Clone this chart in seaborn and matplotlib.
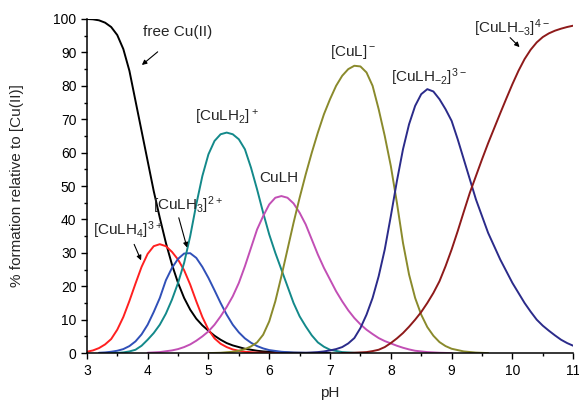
# Copper(II) speciation diagram - % formation vs pH

import matplotlib
matplotlib.use("Agg")
import matplotlib.pyplot as plt
import pandas as pd
import seaborn as sns
from matplotlib.ticker import MultipleLocator

# values, mostly at 0.1 pH steps
ph_cu = [3.0, 3.1, 3.2, 3.3, 3.4, 3.5, 3.6, 3.7, 3.8, 3.9, 4.0, 4.1, 4.2, 4.3, 4.4, 4.5, 4.6, 4.7, 4.8, 4.9,
         5.0, 5.1, 5.2, 5.3, 5.4, 5.5, 5.6, 5.7, 5.8, 5.9, 6.0, 6.2, 6.4, 6.6, 7.0]
free_cu = [100, 99.9, 99.6, 98.9, 97.6, 95.2, 91.0, 84.5, 75.5, 66.5, 57.5, 48.5, 40.5, 33.0, 26.5, 21.0, 16.5, 13.0, 10.3, 8.3,
           6.7, 5.2, 4.0, 3.0, 2.3, 1.8, 1.3, 1.0, 0.7, 0.5, 0.4, 0.2, 0.1, 0.05, 0.0]

ph_lh4 = [3.0, 3.1, 3.2, 3.3, 3.4, 3.5, 3.6, 3.7, 3.8, 3.9, 4.0, 4.1, 4.2, 4.3, 4.4, 4.5, 4.6, 4.7, 4.8, 4.9,
          5.0, 5.1, 5.2, 5.3, 5.4, 5.5, 5.6, 5.8, 6.0, 6.2]
culh4 = [0.4, 0.8, 1.5, 2.6, 4.2, 7.0, 10.8, 15.6, 20.8, 25.8, 29.7, 32.0, 32.6, 32.0, 30.3, 28.0, 24.8, 20.5, 15.5, 10.8,
         7.0, 4.4, 2.8, 1.8, 1.1, 0.7, 0.4, 0.15, 0.05, 0.0]

ph_lh3 = [3.2, 3.3, 3.4, 3.5, 3.6, 3.7, 3.8, 3.9, 4.0, 4.1, 4.2, 4.3, 4.4, 4.5, 4.6, 4.7, 4.8, 4.9,
          5.0, 5.1, 5.2, 5.3, 5.4, 5.5, 5.6, 5.7, 5.8, 5.9, 6.0, 6.2, 6.4, 6.6, 6.8]
culh3 = [0.1, 0.2, 0.4, 0.7, 1.2, 2.1, 3.5, 5.6, 8.5, 12.3, 16.5, 21.8, 25.5, 28.2, 29.8, 29.9, 28.5, 25.8,
         22.5, 18.8, 15.0, 11.5, 8.5, 6.2, 4.4, 3.1, 2.1, 1.4, 0.9, 0.4, 0.15, 0.05, 0.0]

ph_lh2 = [3.4, 3.5, 3.6, 3.7, 3.8, 3.9, 4.0, 4.1, 4.2, 4.3, 4.4, 4.5, 4.6, 4.7, 4.8, 4.9,
          5.0, 5.1, 5.2, 5.3, 5.4, 5.5, 5.6, 5.7, 5.8, 5.9, 6.0, 6.1, 6.2, 6.3, 6.4, 6.5, 6.6, 6.7, 6.8, 6.9,
          7.0, 7.2, 7.4, 7.6]
culh2 = [0.0, 0.05, 0.2, 0.5, 1.0, 2.2, 4.0, 6.0, 8.5, 11.8, 16.0, 21.0, 27.0, 35.0, 44.5, 53.0,
         59.5, 63.5, 65.5, 66.0, 65.5, 64.0, 61.0, 55.5, 49.0, 42.0, 35.5, 30.0, 25.0, 20.0, 15.0, 11.0, 8.0, 5.3, 3.2, 1.9,
         1.0, 0.3, 0.1, 0.0]

ph_lh = [4.0, 4.2, 4.4, 4.5, 4.6, 4.7, 4.8, 4.9, 5.0, 5.1, 5.2, 5.3, 5.4, 5.5, 5.6, 5.7, 5.8, 5.9,
         6.0, 6.1, 6.2, 6.3, 6.4, 6.5, 6.6, 6.7, 6.8, 6.9, 7.0, 7.1, 7.2, 7.3, 7.4, 7.5, 7.6, 7.7, 7.8, 7.9,
         8.0, 8.1, 8.2, 8.3, 8.4, 8.6, 8.8, 9.0]
culh = [0.1, 0.3, 0.8, 1.2, 1.8, 2.6, 3.7, 5.0, 6.5, 8.5, 11.0, 13.8, 17.0, 21.0, 26.0, 31.5, 37.0, 41.0,
        44.5, 46.5, 47.0, 46.5, 44.8, 42.0, 38.5, 34.0, 29.5, 25.5, 22.0, 18.5, 15.5, 12.8, 10.5, 8.6, 7.0, 5.7, 4.5, 3.6,
        2.9, 2.2, 1.6, 1.1, 0.7, 0.3, 0.1, 0.0]

ph_l = [5.0, 5.2, 5.4, 5.5, 5.6, 5.7, 5.8, 5.9, 6.0, 6.1, 6.2, 6.3, 6.4, 6.5, 6.6, 6.7, 6.8, 6.9,
        7.0, 7.1, 7.2, 7.3, 7.4, 7.5, 7.6, 7.7, 7.8, 7.9, 8.0, 8.1, 8.2, 8.3, 8.4, 8.5, 8.6, 8.7, 8.8, 8.9,
        9.0, 9.2, 9.4, 9.6]
cul = [0.0, 0.1, 0.4, 0.7, 1.2, 2.0, 3.2, 5.5, 9.5, 15.5, 23.0, 31.0, 39.0, 46.5, 53.5, 60.0, 66.0, 71.5,
       76.0, 80.0, 83.0, 85.0, 86.0, 85.8, 84.0, 80.0, 73.0, 65.0, 56.0, 45.0, 33.0, 23.5, 16.5, 11.5, 7.8, 5.2, 3.3, 2.1,
       1.3, 0.5, 0.15, 0.0]

ph_lhm2 = [6.2, 6.4, 6.6, 6.8, 6.9, 7.0, 7.1, 7.2, 7.3, 7.4, 7.5, 7.6, 7.7, 7.8, 7.9, 8.0, 8.1, 8.2, 8.3, 8.4,
           8.5, 8.6, 8.7, 8.8, 8.9, 9.0, 9.1, 9.2, 9.3, 9.4, 9.5, 9.6, 9.7, 9.8, 9.9, 10.0, 10.1, 10.2, 10.3, 10.4,
           10.5, 10.6, 10.7, 10.8, 10.9, 11.0]
culhm2 = [0.0, 0.05, 0.1, 0.3, 0.5, 0.8, 1.2, 1.8, 2.9, 4.5, 7.5, 11.5, 16.5, 23.0, 31.0, 41.0, 51.5, 61.0, 68.5, 74.0,
          77.5, 79.0, 78.3, 76.0, 73.0, 69.5, 64.0, 58.0, 52.0, 46.0, 41.0, 36.0, 32.0, 28.0, 24.5, 21.0, 18.0, 15.0, 12.4, 10.0,
          8.2, 6.7, 5.3, 4.0, 3.0, 2.2]

ph_lhm3 = [7.2, 7.4, 7.6, 7.7, 7.8, 7.9, 8.0, 8.1, 8.2, 8.3, 8.4, 8.5, 8.6, 8.7, 8.8, 8.9, 9.0, 9.1, 9.2, 9.3,
           9.4, 9.5, 9.6, 9.7, 9.8, 9.9, 10.0, 10.1, 10.2, 10.3, 10.4, 10.5, 10.6, 10.7, 10.8, 10.9, 11.0]
culhm3 = [0.0, 0.1, 0.3, 0.6, 1.0, 1.8, 3.0, 4.4, 6.0, 7.9, 10.0, 12.3, 15.0, 18.0, 21.5, 26.0, 31.0, 36.5, 42.3, 48.0,
          53.0, 58.0, 62.8, 67.3, 71.8, 76.2, 80.5, 84.5, 88.0, 90.8, 93.0, 94.6, 95.7, 96.5, 97.1, 97.6, 98.0]

species = ["free", "LH4", "LH3", "LH2", "LH", "L", "LHm2", "LHm3"]
colors = ["#000000", "#FF2020", "#3050B8", "#13898A", "#C24FB5", "#8A8A2C", "#2B2B8A", "#8E1A1A"]

frames = []
for name, xs, ys in zip(
    species,
    [ph_cu, ph_lh4, ph_lh3, ph_lh2, ph_lh, ph_l, ph_lhm2, ph_lhm3],
    [free_cu, culh4, culh3, culh2, culh, cul, culhm2, culhm3],
):
    frames.append(pd.DataFrame({"pH": xs, "pct": ys, "species": name}))
df = pd.concat(frames, ignore_index=True)

sns.set_style("ticks")
plt.rcParams["font.family"] = ["Liberation Sans", "DejaVu Sans"]
plt.rcParams["mathtext.fontset"] = "custom"
plt.rcParams["mathtext.rm"] = "Liberation Sans"
plt.rcParams["mathtext.default"] = "regular"
plt.rcParams["xtick.direction"] = "out"
plt.rcParams["ytick.direction"] = "out"

fig = plt.figure(figsize=(5.79, 4.04), dpi=100)
ax = fig.add_axes([0.150, 0.126, 0.840, 0.827])

sns.lineplot(data=df, x="pH", y="pct", hue="species", hue_order=species,
             palette=colors, linewidth=1.4, legend=False, ax=ax, sort=True)

ax.set_xlim(3, 11)
ax.set_ylim(0, 100)
ax.xaxis.set_major_locator(MultipleLocator(1))
ax.xaxis.set_minor_locator(MultipleLocator(0.5))
ax.yaxis.set_major_locator(MultipleLocator(10))
ax.yaxis.set_minor_locator(MultipleLocator(5))
ax.tick_params(which="major", length=4, width=1, labelsize=10, color="black", labelcolor="black")
ax.tick_params(which="minor", length=2.5, width=1, color="black")
for side in ["left", "bottom"]:
    ax.spines[side].set_linewidth(1.1)
    ax.spines[side].set_color("black")
sns.despine(ax=ax)
ax.set_xlabel("pH", fontsize=11, labelpad=6)
ax.set_ylabel("% formation relative to [Cu(II)]", fontsize=11, labelpad=21)

# species labels
fs = 11
ax.text(4.5, 96.0, "free Cu(II)", fontsize=fs, ha="center", va="center")
ax.text(5.3, 70.5, r"[CuLH$_2$]$^+$", fontsize=fs, ha="center", va="center")
ax.text(6.16, 52.3, "CuLH", fontsize=fs, ha="center", va="center")
ax.text(7.38, 90.0, r"[CuL]$^-$", fontsize=fs, ha="center", va="center")
ax.text(8.62, 82.5, r"[CuLH$_{-2}$]$^{3-}$", fontsize=fs, ha="center", va="center")
ax.text(10.0, 97.3, r"[CuLH$_{-3}$]$^{4-}$", fontsize=fs, ha="center", va="center")
ax.text(3.67, 36.8, r"[CuLH$_4$]$^{3+}$", fontsize=fs, ha="center", va="center")
ax.text(4.66, 44.3, r"[CuLH$_3$]$^{2+}$", fontsize=fs, ha="center", va="center")

arrow = dict(arrowstyle="-|>", color="black", lw=0.8, mutation_scale=7)
ax.annotate("", xy=(3.87, 85.7), xytext=(4.2, 90.7), arrowprops=arrow)
ax.annotate("", xy=(3.91, 27.0), xytext=(3.76, 33.3), arrowprops=arrow)
ax.annotate("", xy=(4.66, 30.8), xytext=(4.5, 41.3), arrowprops=arrow)
ax.annotate("", xy=(10.15, 91.0), xytext=(9.93, 95.0), arrowprops=arrow)

fig.savefig("out.png", dpi=100)
